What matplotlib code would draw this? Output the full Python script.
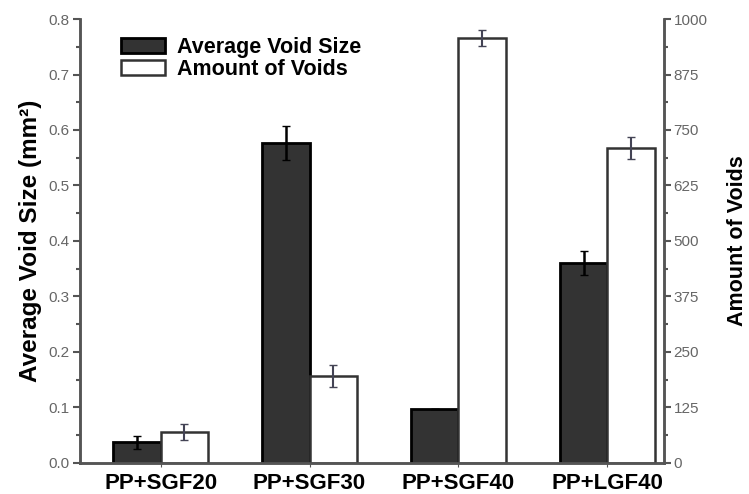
import numpy as np
import matplotlib.pyplot as plt
from matplotlib.ticker import MultipleLocator

plt.rcParams['font.family'] = ['Liberation Sans', 'DejaVu Sans']

# dados
grupos = ["PP+SGF20", "PP+SGF30", "PP+SGF40", "PP+LGF40"]
tamanho_medio = [0.037, 0.577, 0.097, 0.360]      # mm^2
erro_tamanho = [0.012, 0.031, 0.0, 0.021]
qtd_vazios = [70, 196, 957, 709]
erro_qtd = [18, 25, 18, 25]

x = np.arange(len(grupos))
largura = 0.32

fig = plt.figure(figsize=(7.49, 4.94), dpi=100)
ax = fig.add_axes([0.107, 0.063, 0.7795, 0.8985])
ax2 = ax.twinx()

cinza = '#555555'

b1 = ax.bar(x - largura / 2, tamanho_medio, largura, color='#333333',
            edgecolor='black', linewidth=2, zorder=2)
ax.errorbar(x - largura / 2, tamanho_medio, yerr=erro_tamanho, fmt='none',
            ecolor='black', elinewidth=1.8, capsize=3, capthick=1, zorder=3)

b2 = ax2.bar(x + largura / 2, qtd_vazios, largura, color='white',
             edgecolor='#333333', linewidth=1.8, zorder=2)
ax2.errorbar(x + largura / 2, qtd_vazios, yerr=erro_qtd, fmt='none',
             ecolor='#444455', elinewidth=1.5, capsize=3, capthick=1, zorder=3)

ax.set_xlim(-0.54, 3.38)
ax.set_ylim(0, 0.8)
ax2.set_ylim(0, 1000)

ax.yaxis.set_major_locator(MultipleLocator(0.1))
ax.yaxis.set_minor_locator(MultipleLocator(0.05))
ax2.yaxis.set_major_locator(MultipleLocator(125))
ax2.yaxis.set_minor_locator(MultipleLocator(62.5))

ax.set_xticks(x)
ax.set_xticklabels(grupos, fontsize=16, fontweight='bold')
ax.tick_params(axis='x', length=3, color=cinza, pad=4)
ax.tick_params(axis='y', which='major', length=5, width=1.5, color=cinza,
               labelsize=11, labelcolor='#666666', pad=3)
ax.tick_params(axis='y', which='minor', length=3, width=1.5, color=cinza)
ax2.tick_params(axis='y', which='major', length=5, width=1.5, color=cinza,
                labelsize=11, labelcolor='#666666', pad=2)
ax2.tick_params(axis='y', which='minor', length=3, width=1.5, color=cinza)

for a in (ax, ax2):
    a.spines['top'].set_visible(False)
    for s in ('left', 'right', 'bottom'):
        a.spines[s].set_color(cinza)
        a.spines[s].set_linewidth(1.8)

ax.yaxis.set_major_formatter(plt.FuncFormatter(lambda v, p: f"{v:.1f}"))
ax.set_ylabel("Average Void Size (mm²)", fontsize=17.5, fontweight='bold',
              labelpad=4)
ax2.set_ylabel("Amount of Voids", fontsize=15.5, fontweight='bold',
               labelpad=14, rotation=90)

ax.legend([b1, b2], ["Average Void Size", "Amount of Voids"],
          loc='upper left', bbox_to_anchor=(0.051, 0.984), frameon=False,
          borderpad=0, prop={'weight': 'bold', 'size': 15.5},
          handlelength=2.05, handleheight=0.7, labelspacing=0.05,
          handletextpad=0.55)

fig.savefig("out.png", dpi=100)
